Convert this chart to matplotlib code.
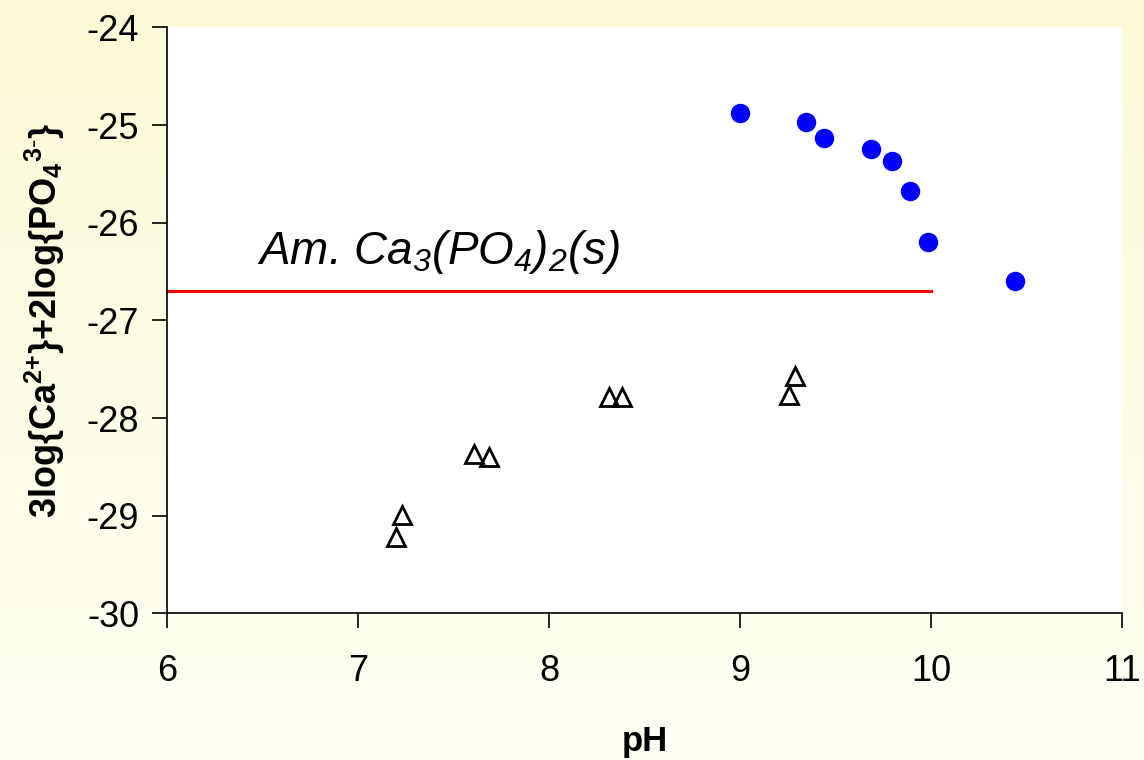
import numpy as np
import matplotlib
matplotlib.use("Agg")
import matplotlib.pyplot as plt

plt.rcParams["font.family"] = ["Liberation Sans", "DejaVu Sans"]
plt.rcParams["mathtext.fontset"] = "custom"
plt.rcParams["mathtext.rm"] = "Liberation Sans"
plt.rcParams["mathtext.it"] = "Liberation Sans:italic"
plt.rcParams["mathtext.bf"] = "Liberation Sans:bold"
# italic digits for the subscripts in the label
plt.rcParams["mathtext.sf"] = "Liberation Sans:italic"
plt.rcParams["axes.unicode_minus"] = False

# supersaturated (blue circles)
ph_blue = [9.00, 9.345, 9.44, 9.686, 9.796, 9.89, 9.984, 10.44]
iap_blue = [-24.88, -24.97, -25.13, -25.25, -25.37, -25.68, -26.20, -26.60]

# undersaturated (open triangles)
ph_tri = [7.23, 7.197, 7.606, 7.684, 8.314, 8.379, 9.288, 9.257]
iap_tri = [-28.99, -29.22, -28.37, -28.40, -27.785, -27.785, -27.57, -27.76]

# solubility line of amorphous calcium phosphate
ph_line = [6, 10]
logk_line = [-26.70, -26.70]

fig = plt.figure(figsize=(11.44, 7.6), dpi=100)

# pale yellow gradient behind everything
bg = fig.add_axes([0, 0, 1, 1], zorder=-10)
grad = np.linspace(0, 1, 256).reshape(-1, 1)
top = np.array([252, 250, 214]) / 255
bot = np.array([255, 255, 244]) / 255
img = top + (bot - top) * grad[..., None]
bg.imshow(img, aspect="auto", extent=[0, 1, 0, 1])
bg.axis("off")

ax = fig.add_axes([0.146, 0.193, 0.835, 0.771])
ax.set_facecolor("white")

ax.plot(ph_line, logk_line, color="red", lw=2.2)
ax.plot(ph_blue, iap_blue, "o", color="#0000ff", ms=13, mec="#0000ff")
ax.plot(ph_tri, iap_tri, "^", ms=12.5, mfc="none", mec="black", mew=2.0)

ax.text(6.47, -26.42, r"Am. Ca$_{\mathsf{3}}$(PO$_{\mathsf{4}}$)$_{\mathsf{2}}$(s)",
        fontsize=33, style="italic")

ax.set_xlim(6, 11)
ax.set_ylim(-30, -24)
ax.set_xticks(range(6, 12))
ax.set_yticks(range(-30, -23))

ax.spines["top"].set_visible(False)
ax.spines["right"].set_visible(False)
ax.spines["left"].set_linewidth(1.2)
ax.spines["bottom"].set_linewidth(1.2)
ax.tick_params(direction="out", length=11, width=1.2, labelsize=26)
ax.tick_params(axis="x", pad=18)
ax.tick_params(axis="y", pad=9)

ax.set_xlabel("pH", fontsize=25, fontweight="bold", labelpad=26)
ax.set_ylabel(r"$\mathbf{3log\{Ca^{2{+}}\}{+}2log\{PO_4{}^{3\text{-}}\}}$",
              fontsize=26, labelpad=14)

fig.savefig("out.png", dpi=100)
